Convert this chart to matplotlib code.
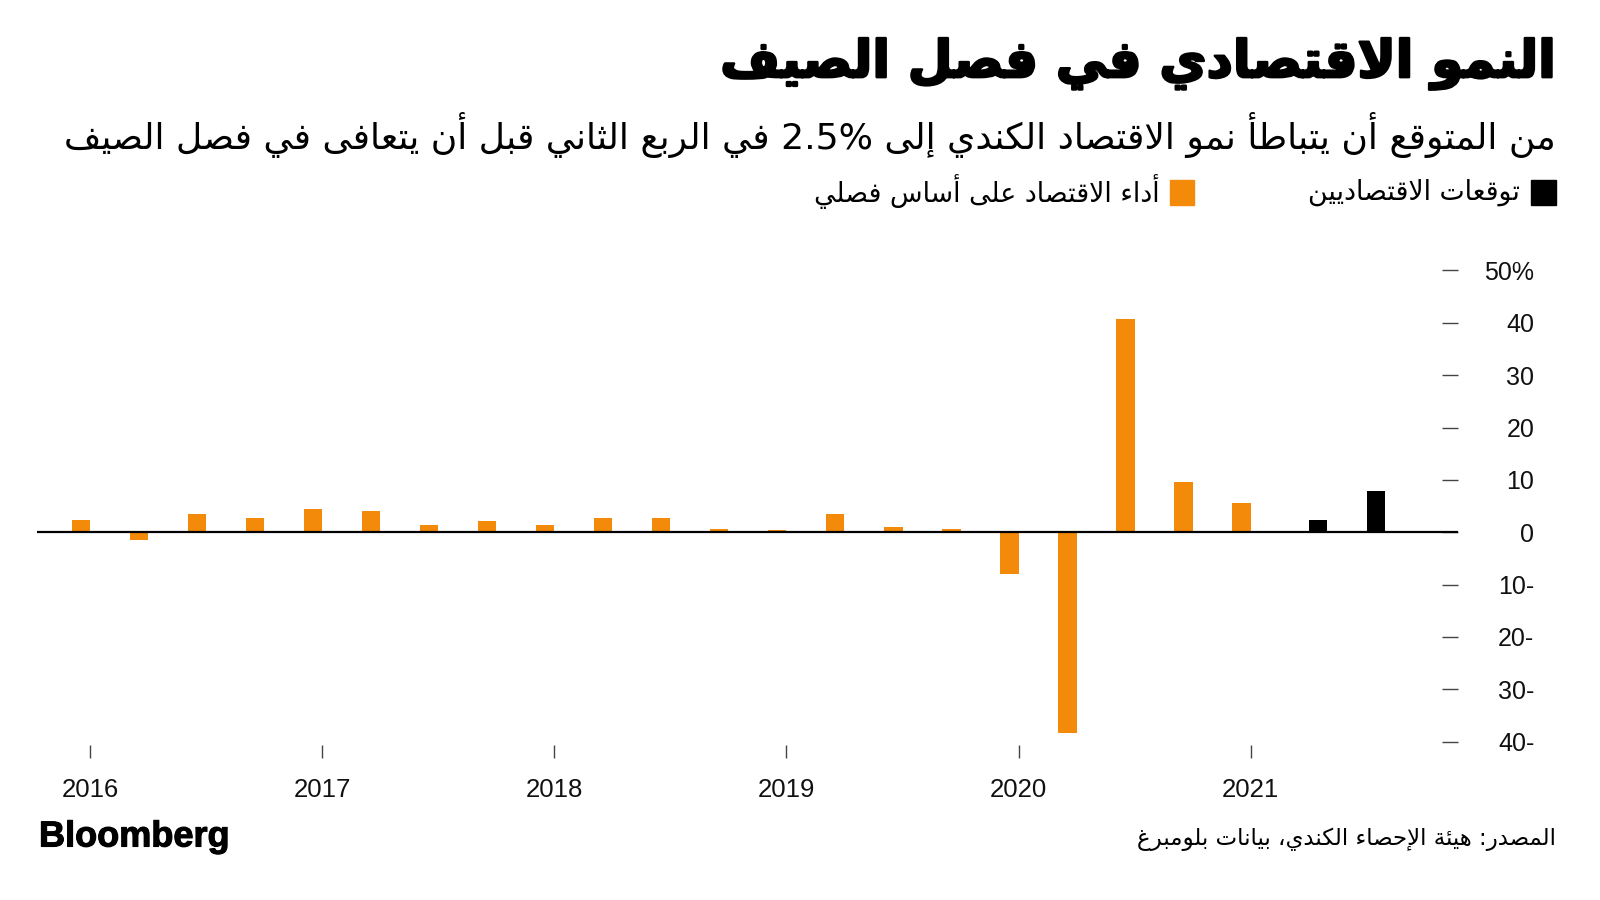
import matplotlib
matplotlib.use("Agg")
import matplotlib.pyplot as plt
import matplotlib.patheffects as pe
from matplotlib.patches import Rectangle

# ---- data ----
title = "النمو الاقتصادي في فصل الصيف"
subtitle = "من المتوقع أن يتباطأ نمو الاقتصاد الكندي إلى 2.5% في الربع الثاني قبل أن يتعافى في فصل الصيف"
legend_actual = "أداء الاقتصاد على أساس فصلي"
legend_forecast = "توقعات الاقتصاديين"
source = "المصدر: هيئة الإحصاء الكندي، بيانات بلومبرغ"

# quarterly growth, annualized %, 2016Q1 .. 2021Q1
quarters = ["2016Q1", "2016Q2", "2016Q3", "2016Q4",
            "2017Q1", "2017Q2", "2017Q3", "2017Q4",
            "2018Q1", "2018Q2", "2018Q3", "2018Q4",
            "2019Q1", "2019Q2", "2019Q3", "2019Q4",
            "2020Q1", "2020Q2", "2020Q3", "2020Q4",
            "2021Q1"]
growth = [2.4, -1.4, 3.5, 2.7,
          4.5, 4.1, 1.4, 2.1,
          1.4, 2.7, 2.7, 0.6,
          0.5, 3.5, 1.0, 0.6,
          -7.9, -38.3, 40.7, 9.5,
          5.6]

forecast_quarters = ["2021Q2", "2021Q3"]
forecast = [2.4, 7.8]

year_ticks = [2016, 2017, 2018, 2019, 2020, 2021]
y_ticks = [-40, -30, -20, -10, 0, 10, 20, 30, 40, 50]
y_labels = ["40-", "30-", "20-", "10-", "0", "10", "20", "30", "40", "50%"]

ORANGE = "#f48a0a"


# ---- minimal arabic shaping (matplotlib has no shaping / bidi) ----
FORMS = {}
for ch, base in [("آ", 0xFE81), ("أ", 0xFE83), ("ؤ", 0xFE85), ("إ", 0xFE87),
                 ("ا", 0xFE8D), ("ة", 0xFE93), ("د", 0xFEA9), ("ذ", 0xFEAB),
                 ("ر", 0xFEAD), ("ز", 0xFEAF), ("و", 0xFEED), ("ى", 0xFEEF)]:
    FORMS[ch] = (base, base + 1)
for ch, base in [("ئ", 0xFE89), ("ب", 0xFE8F), ("ت", 0xFE95), ("ث", 0xFE99),
                 ("ج", 0xFE9D), ("ح", 0xFEA1), ("خ", 0xFEA5), ("س", 0xFEB1),
                 ("ش", 0xFEB5), ("ص", 0xFEB9), ("ض", 0xFEBD), ("ط", 0xFEC1),
                 ("ظ", 0xFEC5), ("ع", 0xFEC9), ("غ", 0xFECD), ("ف", 0xFED1),
                 ("ق", 0xFED5), ("ك", 0xFED9), ("ل", 0xFEDD), ("م", 0xFEE1),
                 ("ن", 0xFEE5), ("ه", 0xFEE9), ("ي", 0xFEF1)]:
    FORMS[ch] = (base, base + 1, base + 2, base + 3)
LAMALEF = {"آ": (0xFEF5, 0xFEF6), "أ": (0xFEF7, 0xFEF8),
           "إ": (0xFEF9, 0xFEFA), "ا": (0xFEFB, 0xFEFC)}


def shape(word):
    out = []
    i = 0
    n = len(word)
    while i < n:
        c = word[i]
        prev = word[i - 1] if i > 0 else None
        link_prev = prev in FORMS and len(FORMS[prev]) == 4 and c in FORMS
        if c == "ل" and i + 1 < n and word[i + 1] in LAMALEF:
            iso, fin = LAMALEF[word[i + 1]]
            out.append(chr(fin if link_prev else iso))
            i += 2
            continue
        if c not in FORMS:
            out.append(c)
            i += 1
            continue
        f = FORMS[c]
        nxt = word[i + 1] if i + 1 < n else None
        link_next = len(f) == 4 and nxt in FORMS
        if link_prev and link_next:
            out.append(chr(f[3]))
        elif link_prev:
            out.append(chr(f[1]))
        elif link_next:
            out.append(chr(f[2]))
        else:
            out.append(chr(f[0]))
        i += 1
    return "".join(out)


def rtl(text):
    vis = []
    for w in reversed(text.split(" ")):
        if any("\u0600" <= ch <= "\u06ff" for ch in w):
            vis.append(shape(w)[::-1])
        else:
            vis.append(w)
    return " ".join(vis)


def qpos(q):
    return int(q[:4]) + (int(q[-1]) - 1) * 0.25


plt.rcParams["font.family"] = ["Liberation Sans", "DejaVu Sans"]
AR = ["DejaVu Sans"]

fig = plt.figure(figsize=(16, 9), dpi=100)
W, H = 1600.0, 900.0

ax = fig.add_axes([37 / W, 1 - 745 / H, (1458 - 37) / W, (745 - 260) / H])

x_act = [qpos(q) for q in quarters]
x_fc = [qpos(q) for q in forecast_quarters]
bar_w = 0.08
ax.bar(x_act, growth, width=-bar_w, align="edge", color=ORANGE, zorder=2)
ax.bar(x_fc, forecast, width=bar_w, align="edge", color="black", zorder=2)
ax.axhline(0, color="black", lw=1.6, zorder=3)

ax.set_xlim(2015.77, 2021.894)
ax.set_ylim(-40.65, 52)
for s in ax.spines.values():
    s.set_visible(False)

ax.set_xticks(year_ticks, [str(y) for y in year_ticks])
ax.tick_params(axis="x", direction="out", length=9, width=1, color="#444",
               pad=15, labelsize=18.5, labelcolor="#111")

ax.yaxis.tick_right()
ax.set_yticks(y_ticks, y_labels)
ax.tick_params(axis="y", direction="in", length=11.5, width=1, color="#444",
               pad=55, labelsize=18, labelcolor="#111")
for lbl in ax.get_yticklabels():
    lbl.set_horizontalalignment("right")

# titles
fig.text(1556 / W, 1 - 64 / H, rtl(title), ha="right", va="center",
         fontsize=37, fontweight="bold", family=AR, color="black",
         path_effects=[pe.withStroke(linewidth=1.8, foreground="black")])
fig.text(1556 / W, 1 - 135 / H, rtl(subtitle), ha="right", va="center",
         fontsize=26, family=AR, color="black")

# legend
fig.add_artist(Rectangle((1531 / W, 1 - 205 / H), 25 / W, 25 / H,
                         transform=fig.transFigure, color="black"))
fig.text(1520 / W, 1 - 192 / H, rtl(legend_forecast), ha="right", va="center",
         fontsize=19.3, family=AR, color="black")
fig.add_artist(Rectangle((1170 / W, 1 - 205 / H), 24 / W, 25 / H,
                         transform=fig.transFigure, color=ORANGE))
fig.text(1160 / W, 1 - 192 / H, rtl(legend_actual), ha="right", va="center",
         fontsize=19.3, family=AR, color="black")

# footer
fig.text(39 / W, 1 - 837 / H, "Bloomberg", ha="left", va="center",
         fontsize=26, fontweight="bold", family=["Liberation Sans"], color="black",
         path_effects=[pe.withStroke(linewidth=0.8, foreground="black")])
fig.text(1556 / W, 1 - 839 / H, rtl(source), ha="right", va="center",
         fontsize=16.5, family=AR, color="black")

fig.savefig("out.png", dpi=100, facecolor="white")
